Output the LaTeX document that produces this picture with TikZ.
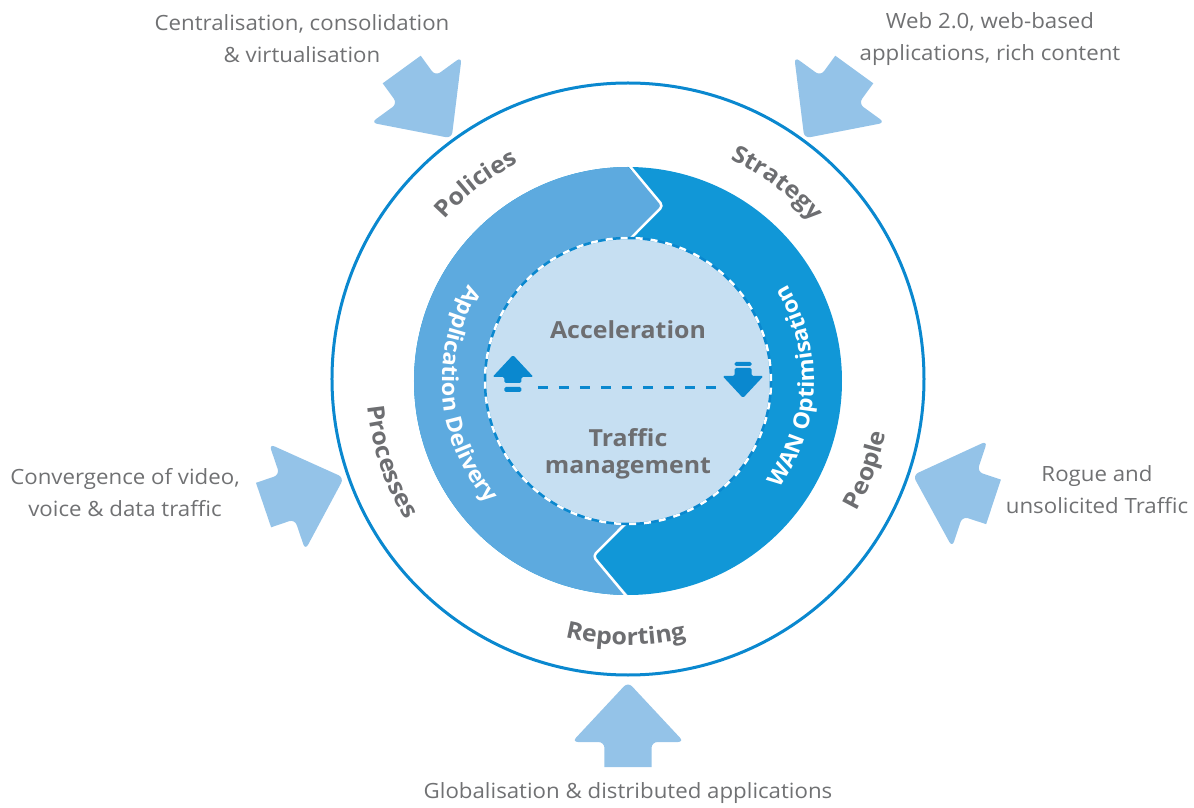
\documentclass[tikz,border=0pt]{standalone}
\usepackage{fontspec}
\setmainfont{Open Sans}[FakeStretch=1.06]
\usetikzlibrary{decorations.text}
\definecolor{ringlight}{HTML}{5DAADF}
\definecolor{ringdark}{HTML}{1197D7}
\definecolor{linkblue}{HTML}{0A88CF}
\definecolor{corefill}{HTML}{C6DFF2}
\definecolor{pushblue}{HTML}{94C3E8}
\definecolor{labelgray}{HTML}{6D6E71}
\definecolor{notegray}{HTML}{707173}
\newcommand{\ringfont}{\fontsize{23.5}{23.5}\selectfont\bfseries}
\newcommand{\bandfont}{\fontsize{22}{22}\selectfont\bfseries}

\begin{document}
\begin{tikzpicture}[x=1pt,y=1pt,
  note/.style={font=\fontsize{21}{32}\selectfont, text=notegray, align=center},
  core/.style={font=\fontsize{23.5}{27}\selectfont\bfseries, text=labelgray, align=center},
  cue/.style={fill=linkblue, rounded corners=1.5pt},
  seam/.style={white, line width=2.5pt, rounded corners=4pt},
  pusharrow/.pic={
    \fill[pushblue, rounded corners=6pt] (0,0) -- (60,56) -- (60,23.5)
      [sharp corners] -- (85,23.5) -- (85,-23.5)
      [rounded corners=6pt] -- (60,-23.5) -- (60,-56) -- cycle;
  }
]
\useasboundingbox (-628,-427) rectangle (566,381);

% outer boundary circle
\draw[linkblue, line width=3pt] (0,2) circle[radius=296pt];

% incoming pressures
\pic[rotate=126] at (126:300pt) {pusharrow};
\pic[rotate=54] at (54:300pt) {pusharrow};
\pic[rotate=198.8] at (198.8:300pt) {pusharrow};
\pic[rotate=341.7] at (341.7:300pt) {pusharrow};
\pic[rotate=270] at (270:301pt) {pusharrow};

% two-tone ring with interlocking chevrons
\fill[ringdark] (0,0) circle[radius=214pt];
\fill[ringlight] (90:214pt) arc[start angle=90, end angle=270, radius=214pt]
  -- (258.7:178.5pt) -- (270:143pt)
  arc[start angle=270, end angle=90, radius=143pt]
  -- (78.7:178.5pt) -- cycle;
\draw[seam] (90:217pt) -- (78.7:178.5pt) -- (90:140pt);
\draw[seam] (270:140pt) -- (258.7:178.5pt) -- (270:217pt);

% core disc with dashed rim
\fill[corefill] (0,0) circle[radius=143pt];
\draw[linkblue, line width=2.5pt] (0,0) circle[radius=143pt];
\draw[white, line width=2.5pt, dash pattern=on 7pt off 8pt] (0,0) circle[radius=143pt];

% core labels
\node[core] (accel) at (0,51) {Acceleration};
\node[core] (traffic) at (0,-73) {Traffic\\management};

% up / down cues joined by a dashed line
\fill[cue] (-115,26) -- (-94.5,4) -- (-106.5,4) -- (-106.5,-2) -- (-123.5,-2)
  -- (-123.5,4) -- (-135.5,4) -- cycle;
\fill[cue] (-123.5,-6) rectangle (-106.5,-11);
\fill[cue] (106.5,19) rectangle (123.5,15);
\fill[cue] (106.5,13) -- (123.5,13) -- (123.5,5) -- (135.5,5) -- (115,-17)
  -- (94.5,5) -- (106.5,5) -- cycle;
\coordinate (cueL) at (-90,-7);
\coordinate (cueR) at (89,-7);
\draw[linkblue, line width=3pt, dash pattern=on 10pt off 11pt] (cueL) -- (cueR);

% labels inside the ring
\path[decorate, decoration={text along path, text align=center, text color=white,
  text={|\bandfont|Application Delivery}}]
  (125:186pt) arc[start angle=125, end angle=245, radius=186pt];
\path[decorate, decoration={text along path, text align=center, text color=white,
  text={|\bandfont|WAN Optimisation}}]
  (-62:186pt) arc[start angle=-62, end angle=58, radius=186pt];

% labels between ring and boundary
\path[decorate, decoration={text along path, text align=center, text color=labelgray,
  text={|\ringfont|Policies}}]
  (167.6:244pt) arc[start angle=167.6, end angle=87.6, radius=244pt];
\path[decorate, decoration={text along path, text align=center, text color=labelgray,
  text={|\ringfont|Strategy}}]
  (93:244pt) arc[start angle=93, end angle=13, radius=244pt];
\path[decorate, decoration={text along path, text align=center, text color=labelgray,
  text={|\ringfont|Processes}}]
  (158.8:262pt) arc[start angle=158.8, end angle=238.8, radius=262pt];
\path[decorate, decoration={text along path, text align=center, text color=labelgray,
  text={|\ringfont|People}}]
  (299.5:263pt) arc[start angle=299.5, end angle=379.5, radius=263pt];
\path[decorate, decoration={text along path, text align=center, text color=labelgray,
  text={|\ringfont|Reporting}}]
  (229.5:264pt) arc[start angle=229.5, end angle=309.5, radius=264pt];

% outside drivers
\node[note] (central) at (-326,342) {Centralisation, consolidation\\\& virtualisation};
\node[note] (web) at (362,342) {Web 2.0, web-based\\applications, rich content};
\node[note] (converge) at (-503,-112) {Convergence of video,\\voice \& data traffic};
\node[note] (rogue) at (469,-109) {Rogue and\\unsolicited Traffic};
\node[note] (global) at (0,-412) {Globalisation \& distributed applications};
\end{tikzpicture}
\end{document}
